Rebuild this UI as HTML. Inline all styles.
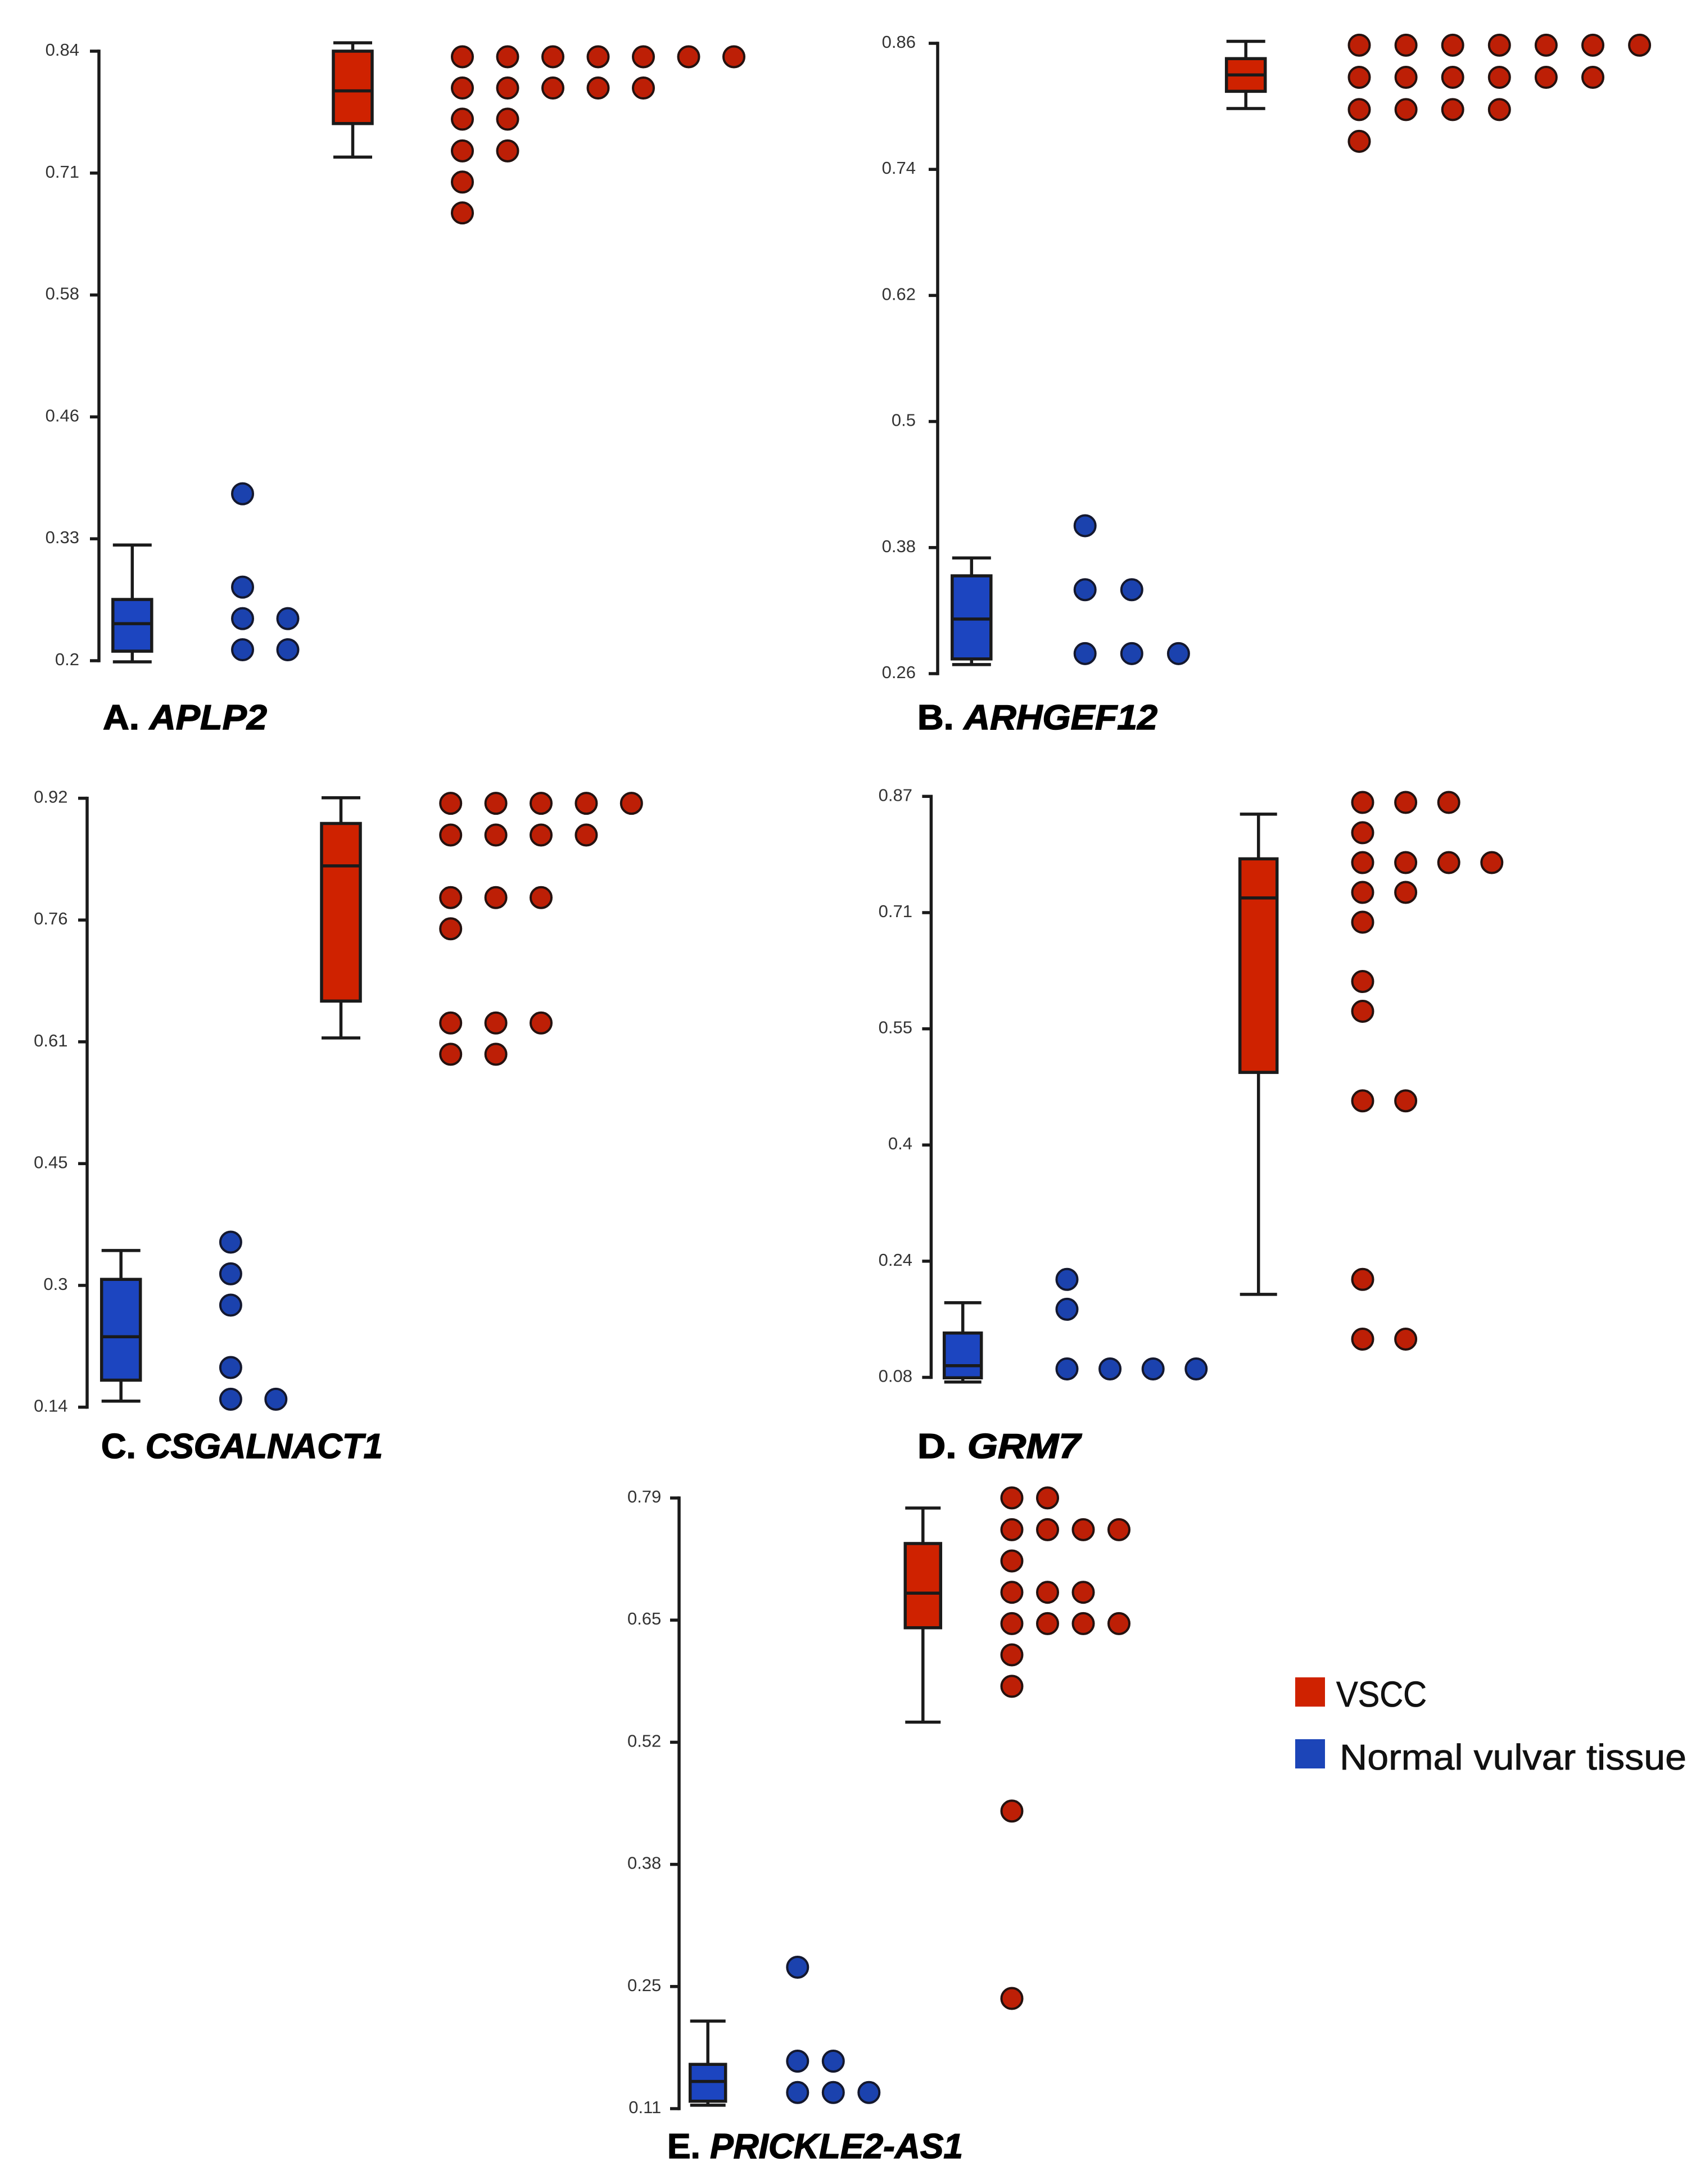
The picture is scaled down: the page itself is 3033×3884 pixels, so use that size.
<!DOCTYPE html>
<html lang="en">
<head>
<meta charset="utf-8">
<title>Gene methylation box and dot plots</title>
<style>
  html, body { margin: 0; padding: 0; background: #fff; }
  svg { display: block; }
  .tick-label { font-family: "Liberation Sans", sans-serif; font-size: 31px; fill: #333; text-anchor: end; }
  .panel-title { font-family: "Liberation Sans", sans-serif; font-size: 62px; font-weight: bold; fill: #000; stroke: #000; stroke-width: 1.5px; }
  .legend-text { font-family: "Liberation Sans", sans-serif; font-size: 64px; fill: #111; stroke: #111; stroke-width: 0.8px; }
</style>
</head>
<body>
<svg id="chart" xmlns="http://www.w3.org/2000/svg" width="3033" height="3884" viewBox="0 0 3033 3884">
  <rect x="0" y="0" width="3033" height="3884" fill="#ffffff"/>

  <text class="panel-title" x="183" y="1297" textLength="292" lengthAdjust="spacingAndGlyphs">A. <tspan font-style="italic">APLP2</tspan></text>
  <text class="panel-title" x="1632" y="1297" textLength="427" lengthAdjust="spacingAndGlyphs">B. <tspan font-style="italic">ARHGEF12</tspan></text>
  <text class="panel-title" x="180" y="2593" textLength="501" lengthAdjust="spacingAndGlyphs">C. <tspan font-style="italic">CSGALNACT1</tspan></text>
  <text class="panel-title" x="1632" y="2593" textLength="290" lengthAdjust="spacingAndGlyphs">D. <tspan font-style="italic">GRM7</tspan></text>
  <text class="panel-title" x="1187" y="3838" textLength="526" lengthAdjust="spacingAndGlyphs">E. <tspan font-style="italic">PRICKLE2-AS1</tspan></text>

  <g>
    <rect x="2304" y="2983" width="53" height="52" fill="#cf2200"/>
    <text class="legend-text" x="2377" y="3035" textLength="161" lengthAdjust="spacingAndGlyphs">VSCC</text>
    <rect x="2304" y="3093" width="53" height="52" fill="#1c45b8"/>
    <text class="legend-text" x="2383" y="3147" textLength="617" lengthAdjust="spacingAndGlyphs">Normal vulvar tissue</text>
  </g>
</svg>

<script>
// Box arrays are: [lower whisker, Q1, median, Q3, upper whisker]
// Panel A: APLP2
const aTicks = [0.84, 0.712, 0.584, 0.456, 0.328, 0.2];
const aTickLabels = ["0.84", "0.71", "0.58", "0.46", "0.33", "0.2"];
const aBoxNormal = [0.1988, 0.21, 0.2389, 0.2643, 0.3215];
const aBoxVscc = [0.7288, 0.764, 0.7983, 0.84, 0.8488];
const aDotsNormal = [0.3753, 0.2773, 0.2442, 0.2115];
const aCountsNormal = [1, 1, 2, 2];
const aDotsVscc = [0.8341, 0.8013, 0.7686, 0.7353, 0.7026, 0.6702];
const aCountsVscc = [7, 5, 2, 2, 1, 1];

// Panel B: ARHGEF12
const bTicks = [0.86, 0.74, 0.62, 0.5, 0.38, 0.26];
const bTickLabels = ["0.86", "0.74", "0.62", "0.5", "0.38", "0.26"];
const bBoxNormal = [0.2686, 0.274, 0.312, 0.3531, 0.3701];
const bBoxVscc = [0.7979, 0.8143, 0.8299, 0.8454, 0.8619];
const bDotsNormal = [0.4008, 0.3399, 0.2791];
const bCountsNormal = [1, 2, 3];
const bDotsVscc = [0.8582, 0.8276, 0.7969, 0.7667];
const bCountsVscc = [7, 6, 4, 1];

// Panel C: CSGALNACT1
const cTicks = [0.92, 0.764, 0.608, 0.452, 0.296, 0.14];
const cTickLabels = ["0.92", "0.76", "0.61", "0.45", "0.3", "0.14"];
const cBoxNormal = [0.1477, 0.1746, 0.2302, 0.3037, 0.3407];
const cBoxVscc = [0.613, 0.6602, 0.8334, 0.8877, 0.9206];
const cDotsNormal = [0.3514, 0.3108, 0.2707, 0.1908, 0.1502];
const cCountsNormal = [1, 1, 1, 1, 2];
const cDotsVscc = [0.9135, 0.8729, 0.7928, 0.7528, 0.6321, 0.5921];
const cCountsVscc = [5, 4, 3, 1, 3, 2];

// Panel D: GRM7
const dTicks = [0.87, 0.712, 0.554, 0.396, 0.238, 0.08];
const dTickLabels = ["0.87", "0.71", "0.55", "0.4", "0.24", "0.08"];
const dBoxNormal = [0.0737, 0.0794, 0.0959, 0.1403, 0.1815];
const dBoxVscc = [0.1929, 0.4947, 0.7319, 0.7851, 0.8459];
const dDotsNormal = [0.2132, 0.1726, 0.0915];
const dCountsNormal = [1, 1, 4];
const dDotsVscc = [0.8618, 0.8206, 0.78, 0.7395, 0.699, 0.6183, 0.5778, 0.456, 0.2132, 0.132];
const dCountsVscc = [3, 1, 4, 2, 1, 1, 1, 2, 1, 2];

// Panel E: PRICKLE2-AS1
const eTicks = [0.79, 0.654, 0.518, 0.382, 0.246, 0.11];
const eTickLabels = ["0.79", "0.65", "0.52", "0.38", "0.25", "0.11"];
const eBoxNormal = [0.1138, 0.1183, 0.1403, 0.1593, 0.2075];
const eBoxVscc = [0.5404, 0.6455, 0.684, 0.7393, 0.7788];
const eDotsNormal = [0.2675, 0.1629, 0.128];
const eCountsNormal = [1, 2, 3];
const eDotsVscc = [0.7901, 0.7547, 0.7199, 0.685, 0.6501, 0.6153, 0.5803, 0.4414, 0.2327];
const eCountsVscc = [2, 4, 1, 3, 4, 1, 1, 1, 1];

const NS = "http://www.w3.org/2000/svg";
const svg = document.getElementById("chart");
const INK = "#1a1a1a";
const LINE = 5.5;
const COLORS = {
  normal: { box: "#1c45c0", dot: "#1b42ae", dotStroke: "#14182e" },
  vscc: { box: "#cf2200", dot: "#bd1f06", dotStroke: "#241210" }
};

function make(tag, attrs, parent) {
  const el = document.createElementNS(NS, tag);
  for (const key in attrs) el.setAttribute(key, attrs[key]);
  parent.appendChild(el);
  return el;
}

function drawPanel(id, frame, ticks, tickLabels, groups) {
  const yOf = function (v) {
    return frame.top + (ticks[0] - v) / (ticks[0] - ticks[ticks.length - 1]) * (frame.bottom - frame.top);
  };

  const panel = make("g", {}, svg);
  
  

  const axis = make("line", { x1: frame.axisX, x2: frame.axisX, y1: yOf(ticks[0]) - 2.75, y2: yOf(ticks[ticks.length - 1]) + 2.75, stroke: INK, "stroke-width": LINE }, panel);
  
  

  ticks.forEach(function (t, i) {
    const mark = make("line", { x1: frame.axisX - 16, x2: frame.axisX, y1: yOf(t), y2: yOf(t), stroke: INK, "stroke-width": LINE }, panel);
    
    
    const label = make("text", { class: "tick-label", x: frame.labelX, y: yOf(t) + 8 }, panel);
    label.textContent = tickLabels[i];
    
    
  });

  groups.forEach(function (g) {
    const c = COLORS[g.key];
    const left = g.boxX - g.boxW / 2;
    const [low, q1, med, q3, high] = g.box;

    const boxGroup = make("g", {}, panel);
    
    

    const whisker = make("line", { x1: g.boxX, x2: g.boxX, y1: yOf(low), y2: yOf(high), stroke: INK, "stroke-width": LINE }, boxGroup);
    
    

    [low, high].forEach(function (v) {
      const cap = make("line", { x1: left, x2: left + g.boxW, y1: yOf(v), y2: yOf(v), stroke: INK, "stroke-width": LINE }, boxGroup);
      
      
    });

    const rect = make("rect", { x: left, y: yOf(q3), width: g.boxW, height: yOf(q1) - yOf(q3), fill: c.box, stroke: INK, "stroke-width": LINE }, boxGroup);
    
    

    const median = make("line", { x1: left, x2: left + g.boxW, y1: yOf(med), y2: yOf(med), stroke: INK, "stroke-width": LINE }, boxGroup);
    
    

    g.dots.forEach(function (v, row) {
      for (let col = 0; col < g.counts[row]; col++) {
        const dot = make("circle", { cx: g.dotX + col * g.dotStep, cy: yOf(v), r: 18.5, fill: c.dot, stroke: c.dotStroke, "stroke-width": 4 }, panel);
        
        
      }
    });
  });
}

drawPanel("panel-a", { axisX: 176, labelX: 141, top: 91, bottom: 1175 }, aTicks, aTickLabels, [
  { key: "normal", box: aBoxNormal, boxX: 235.3, boxW: 69, dots: aDotsNormal, counts: aCountsNormal, dotX: 431.5, dotStep: 80.5 },
  { key: "vscc", box: aBoxVscc, boxX: 627.5, boxW: 69, dots: aDotsVscc, counts: aCountsVscc, dotX: 822.5, dotStep: 80.5 }
]);

drawPanel("panel-b", { axisX: 1668, labelX: 1629, top: 77, bottom: 1198 }, bTicks, bTickLabels, [
  { key: "normal", box: bBoxNormal, boxX: 1728.3, boxW: 69, dots: bDotsNormal, counts: bCountsNormal, dotX: 1930.2, dotStep: 83.1 },
  { key: "vscc", box: bBoxVscc, boxX: 2216.2, boxW: 69, dots: bDotsVscc, counts: bCountsVscc, dotX: 2418, dotStep: 83.1 }
]);

drawPanel("panel-c", { axisX: 155, labelX: 120.5, top: 1419.6, bottom: 2502.5 }, cTicks, cTickLabels, [
  { key: "normal", box: cBoxNormal, boxX: 215.2, boxW: 69, dots: cDotsNormal, counts: cCountsNormal, dotX: 410.4, dotStep: 80.4 },
  { key: "vscc", box: cBoxVscc, boxX: 606.5, boxW: 69, dots: cDotsVscc, counts: cCountsVscc, dotX: 801.7, dotStep: 80.4 }
]);

drawPanel("panel-d", { axisX: 1656.4, labelX: 1623, top: 1416.3, bottom: 2449.5 }, dTicks, dTickLabels, [
  { key: "normal", box: dBoxNormal, boxX: 1712.7, boxW: 66, dots: dDotsNormal, counts: dCountsNormal, dotX: 1898, dotStep: 76.6 },
  { key: "vscc", box: dBoxVscc, boxX: 2238.7, boxW: 66, dots: dDotsVscc, counts: dCountsVscc, dotX: 2424, dotStep: 76.6 }
]);

drawPanel("panel-e", { axisX: 1208, labelX: 1176.3, top: 2664, bottom: 3750 }, eTicks, eTickLabels, [
  { key: "normal", box: eBoxNormal, boxX: 1259.2, boxW: 63, dots: eDotsNormal, counts: eCountsNormal, dotX: 1418.8, dotStep: 63.5 },
  { key: "vscc", box: eBoxVscc, boxX: 1641.8, boxW: 63, dots: eDotsVscc, counts: eCountsVscc, dotX: 1800, dotStep: 63.5 }
]);
</script>
</body>
</html>
